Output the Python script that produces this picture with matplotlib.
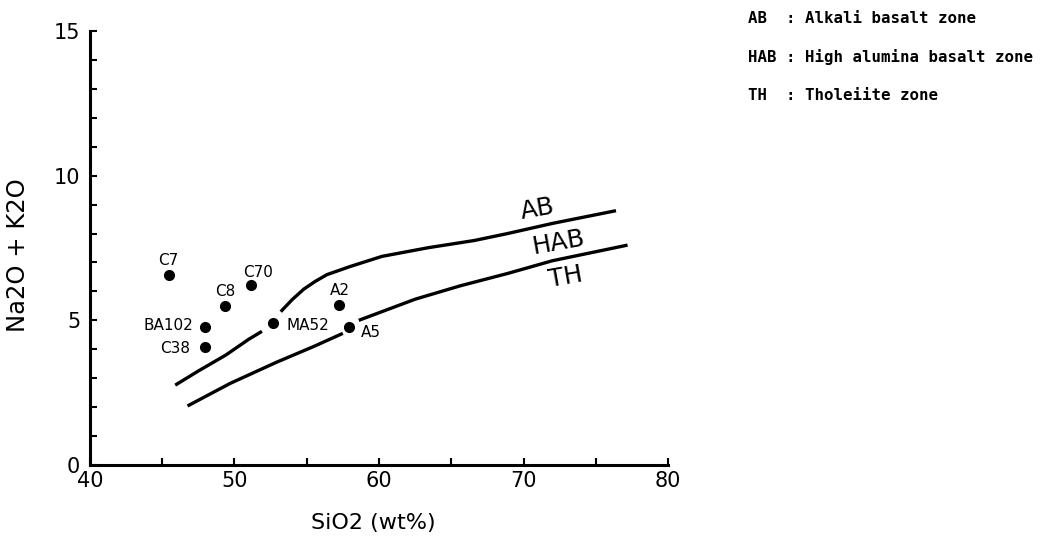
import numpy as np
import matplotlib
matplotlib.use("Agg")
import matplotlib.pyplot as plt

# ---- data ----
sample_names = ["C7", "C70", "C8", "BA102", "C38", "MA52", "A2", "A5"]
sample_sio2 = [45.45, 51.13, 49.35, 47.96, 47.96, 52.7, 57.23, 57.95]
sample_alk = [6.58, 6.23, 5.5, 4.76, 4.08, 4.92, 5.54, 4.76]

ab_sio2 = [45.9, 47.5, 49.4, 51.0, 51.9, np.nan, 53.2, 54.0, 54.8, 55.6, 56.4, 58.0, 60.2, 63.4, 66.6, 68.9, 72.0, 76.4]
ab_alk = [2.76, 3.25, 3.8, 4.35, 4.62, np.nan, 5.3, 5.72, 6.08, 6.35, 6.58, 6.86, 7.21, 7.51, 7.76, 8.0, 8.35, 8.79]

th_sio2 = [46.75, 49.7, 52.9, 55.5, 57.5, np.nan, 58.6, 62.5, 65.6, 68.9, 72.0, 77.2]
th_alk = [2.04, 2.82, 3.55, 4.1, 4.55, np.nan, 5.0, 5.73, 6.19, 6.62, 7.06, 7.6]

zone_labels = ["AB", "HAB", "TH"]
zone_label_x = [71.0, 72.4, 72.9]
zone_label_y = [8.83, 7.69, 6.48]

legend_lines = ["AB  : Alkali basalt zone",
                "HAB : High alumina basalt zone",
                "TH  : Tholeiite zone"]

x_ticks = [40, 50, 60, 70, 80]
y_ticks = [0, 5, 10, 15]

# ---- figure ----
fig = plt.figure(figsize=(10.51, 5.47), dpi=100)
ax = fig.add_axes([0.0856, 0.1499, 0.5500, 0.7934])

ax.plot(ab_sio2, ab_alk, color="black", lw=2.4, solid_capstyle="butt")
ax.plot(th_sio2, th_alk, color="black", lw=2.4, solid_capstyle="butt")
ax.plot(sample_sio2, sample_alk, "o", color="black", ms=7)

offsets = {
    "C7": (0, 10, "center", "center"),
    "C70": (5, 8.6, "center", "center"),
    "C8": (0, 10, "center", "center"),
    "BA102": (-8.6, 1.4, "right", "center"),
    "C38": (-11, -1.2, "right", "center"),
    "MA52": (9.4, -2, "left", "center"),
    "A2": (0.7, 10, "center", "center"),
    "A5": (8, -4, "left", "center"),
}
for name, xv, yv in zip(sample_names, sample_sio2, sample_alk):
    dx, dy, ha, va = offsets[name]
    ax.annotate(name, (xv, yv), xytext=(dx, dy), textcoords="offset points",
                ha=ha, va=va, fontsize=11, family="DejaVu Sans")

for lab, xv, yv in zip(zone_labels, zone_label_x, zone_label_y):
    ax.text(xv, yv, lab, fontsize=18, rotation=10, ha="center", va="center",
            family="DejaVu Sans")

ax.set_xlim(40, 80)
ax.set_ylim(0, 15)
ax.set_xticks(x_ticks)
ax.set_yticks(y_ticks)
ax.set_xticks(np.arange(40, 81, 5), minor=True)
ax.set_yticks(np.arange(0, 16, 1), minor=True)
ax.tick_params(which="both", direction="in", width=1.5, color="black", length=5)
ax.tick_params(axis="x", which="major", labelsize=15, pad=4)
ax.tick_params(axis="y", which="major", labelsize=15, pad=7)
for s in ["top", "right"]:
    ax.spines[s].set_visible(False)
for s in ["left", "bottom"]:
    ax.spines[s].set_linewidth(2.2)

ax.set_xlabel("SiO2 (wt%)", fontsize=16)
ax.xaxis.set_label_coords(0.49, -0.11)
ax.set_ylabel("Na2O + K2O", fontsize=17.5)
ax.yaxis.set_label_coords(-0.104, 0.484)

for i, line in enumerate(legend_lines):
    fig.text(0.712, 0.967 - i * 0.0705, line, fontsize=11.3, family="DejaVu Sans Mono",
             weight="bold", ha="left", va="center")

fig.savefig("out.png", dpi=100)
